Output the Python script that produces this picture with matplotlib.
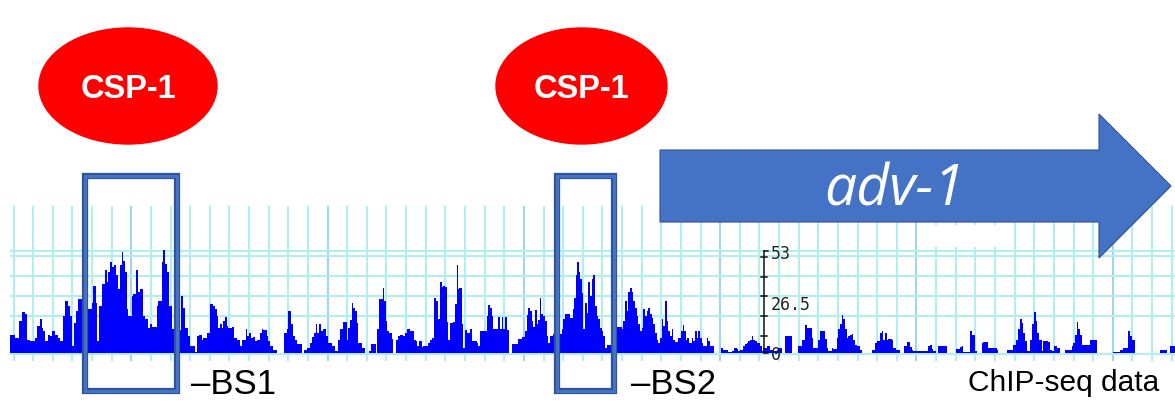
import matplotlib
matplotlib.use("Agg")
import matplotlib.pyplot as plt
from matplotlib.patches import Ellipse, Rectangle, Polygon
import numpy as np

# ChIP-seq coverage track: bin start positions and read depth
bin_starts = [
    10.0, 15.0, 19.3, 21.7, 25.0, 26.7, 30.0, 35.0, 36.7, 40.0, 41.7, 43.3, 45.0, 48.3, 50.0,
    51.7, 55.0, 58.3, 60.0, 63.3, 65.0, 68.3, 70.0, 71.7, 74.0, 76.0, 78.3, 81.7, 88.3, 91.7,
    93.3, 96.0, 97.3, 99.3, 101.7, 105.0, 106.7, 108.3, 110.0, 111.7, 114.0, 116.0, 118.3, 120.0,
    121.7, 123.3, 125.0, 126.7, 128.3, 131.7, 133.3, 136.0, 137.7, 140.0, 142.7, 145.0, 148.3,
    150.0, 151.7, 156.7, 158.3, 161.7, 163.3, 165.0, 166.7, 169.3, 171.7, 174.3, 180.7, 183.3,
    185.0, 188.3, 190.0, 195.0, 196.7, 199.3, 201.7, 203.3, 206.7,
    210.0, 213.3, 215.0, 216.7, 218.3, 220.0, 221.7, 223.3, 225.0, 226.7, 228.3, 231.7, 234.0,
    236.7, 240.0, 241.7, 246.0, 247.3, 249.3, 250.7, 252.7, 255.0, 256.7, 260.0, 261.7, 263.3,
    266.7, 268.3, 270.0, 273.3, 276.7, 284.0, 287.3, 288.3, 290.7, 292.7, 295.0, 297.3, 301.7,
    304.0, 306.7, 310.0, 311.7, 314.0, 316.0, 317.3, 319.3, 320.7, 323.3, 326.0, 328.3, 331.7,
    335.0, 338.3, 340.0, 343.3, 346.7, 348.3, 350.0, 351.7, 353.3, 355.0, 356.7, 358.3, 361.7,
    365.0, 369.3, 370.7, 375.7, 377.3, 379.3, 382.7, 384.0, 385.7, 387.3, 389.3, 391.7, 393.3,
    395.7, 398.3, 400.0, 402.7, 405.0, 406.7,
    410.0, 414.0, 416.0, 417.3, 419.3, 421.7, 423.3, 428.3, 430.0, 431.7, 434.0, 436.0, 438.3,
    440.0, 441.7, 443.3, 445.0, 446.7, 448.3, 450.0, 452.7, 455.0, 456.7, 457.7, 459.3, 461.7,
    463.3, 465.0, 466.7, 470.0, 471.7, 476.7, 478.3, 480.0, 486.7, 488.3, 490.0, 491.7, 493.3,
    496.0, 498.3, 500.0, 501.7, 503.3, 505.0, 506.7, 509.3, 511.7, 518.3, 521.7, 525.0, 526.7,
    528.3, 530.0, 531.7, 533.3, 535.0, 536.7, 538.3, 540.0, 541.0, 542.7, 545.0, 546.7, 548.3,
    550.0, 552.7, 561.7, 563.3, 565.0, 570.0, 572.7, 574.3, 576.0, 577.3, 578.7, 580.0, 581.7,
    583.3, 585.0, 586.7, 588.3, 590.0, 591.7, 593.3, 595.0, 596.7, 598.3, 600.0, 601.7, 603.3,
    605.0, 606.7,
    617.3, 621.7, 623.3, 625.0, 626.7, 628.3, 630.0, 631.7, 633.3, 635.0, 636.7, 638.3, 640.0,
    641.7, 643.3, 645.0, 646.7, 648.3, 650.0, 651.7, 653.3, 655.0, 656.7, 658.3, 660.0, 661.7,
    663.3, 665.0, 666.7, 668.3, 670.0, 671.7, 673.3, 675.0, 678.3, 680.7, 682.7, 684.0, 686.0,
    687.3, 689.3, 691.7, 693.3, 695.0, 696.7, 698.3, 700.0, 701.7, 703.3, 706.7, 708.3, 710.0,
    711.7, 714.0, 720.7, 723.3, 728.3, 731.7, 734.0, 736.7, 738.3, 740.0, 743.3, 745.0, 746.7,
    748.3, 750.0, 751.7, 753.3, 755.0, 756.7, 760.0, 761.7, 763.3, 766.7, 770.0, 773.3, 776.7,
    778.3, 781.7, 785.0, 791.7, 798.3, 801.7, 805.0, 806.7,
    810.0, 811.7, 813.3, 818.3, 820.0, 825.0, 826.7, 828.3, 831.7, 833.3, 836.7, 838.3, 840.0,
    841.7, 843.3, 845.0, 846.7, 848.3, 850.0, 851.7, 853.3, 855.0, 856.7, 860.0, 861.7, 871.7,
    875.0, 876.7, 880.0, 881.7, 883.3, 885.0, 886.7, 888.3, 891.7, 893.3, 896.0, 900.0, 904.0,
    906.7, 910.0, 911.7, 913.3, 928.3, 930.0, 931.7, 933.3, 936.0, 938.3, 947.3, 956.0, 960.0,
    961.7, 963.3, 970.0, 971.7, 975.0, 976.7, 981.7, 983.3, 988.3, 996.7, 998.3, 1006.7,
    1010.0, 1013.3, 1016.0, 1018.3, 1020.0, 1021.7, 1023.3, 1025.0, 1026.7, 1030.0, 1031.7,
    1034.0, 1036.0, 1037.3, 1039.3, 1041.7, 1043.3, 1048.3, 1050.0, 1051.7, 1054.0, 1056.7,
    1060.0, 1065.0, 1071.7, 1073.3, 1075.0, 1076.7, 1078.3, 1080.0, 1081.7, 1090.0, 1096.7,
    1113.3, 1120.0, 1123.3, 1128.3, 1130.0, 1131.7, 1135.0, 1160.0, 1166.7, 1170.0,
]
track_end = 1175.0
depth = [
    9.6, 7.9, 16.7, 21.4, 20.2, 7.0, 6.1, 7.9, 14.0, 17.9, 13.2, 11.4, 6.1, 9.6, 8.8,
    11.4, 9.6, 7.9, 6.1, 19.3, 27.2, 24.6, 19.3, 3.5, 15.8, 21.9, 28.1, 28.0, 22.8, 26.3,
    35.1, 26.3, 6.1, 24.6, 36.0, 43.0, 36.8, 42.1, 47.4, 44.7, 45.6, 40.4, 33.3, 45.6,
    52.6, 48.2, 42.1, 22.8, 19.3, 29.8, 30.7, 43.0, 31.6, 33.3, 19.3, 17.5, 13.2,
    14.9, 13.7, 24.6, 27.2, 47.4, 53.5, 46.5, 42.1, 24.6, 12.3, 12.0, 29.8, 23.7,
    13.2, 8.8, 3.5, 0.5, 8.8, 9.6, 7.0, 7.9, 10.5,
    25.4, 24.6, 22.8, 19.3, 13.2, 14.9, 13.2, 16.7, 18.9, 14.0, 13.2, 13.7, 7.9,
    7.0, 3.9, 7.0, 12.6, 8.8, 10.5, 7.9, 8.4, 6.1, 7.0, 10.5, 12.3, 12.0,
    8.8, 6.1, 3.5, 1.8, 0.0, 10.5, 12.3, 21.9, 14.9, 8.8, 7.0, 4.9, 0.0,
    1.8, 2.6, 5.3, 8.4, 10.5, 14.9, 10.5, 14.9, 11.4, 12.3, 8.8, 5.3, 3.5,
    0.9, 7.0, 12.3, 16.1, 7.0, 13.2, 17.2, 26.0, 23.7, 21.9, 15.8, 5.3, 2.6,
    0.0, 0.9, 4.9, 0.0, 12.6, 28.1, 33.7, 27.2, 16.7, 11.4, 10.5, 7.4, 0.0,
    7.0, 8.8, 9.6, 8.8, 10.5, 12.3,
    11.4, 7.0, 6.1, 3.5, 6.1, 3.2, 3.9, 5.3, 7.0, 7.9, 28.9, 27.2, 17.5,
    36.8, 34.2, 35.1, 34.2, 16.1, 7.0, 15.8, 16.1, 25.4, 46.0, 33.3, 33.7, 14.9,
    2.6, 11.9, 10.2, 12.3, 6.1, 5.3, 3.5, 11.4, 19.3, 24.9, 23.7, 19.3, 12.3,
    12.6, 18.9, 12.6, 18.9, 12.6, 18.9, 11.9, 0.0, 4.9, 7.4, 8.4, 11.4, 19.6,
    23.7, 21.9, 16.7, 13.7, 22.5, 14.9, 17.2, 28.9, 20.2, 19.3, 16.7, 8.8, 5.3,
    8.8, 10.0, 12.3, 17.5, 20.2, 18.4, 22.8, 28.9, 40.4, 47.4, 42.1, 38.6, 31.2,
    12.6, 26.3, 21.0, 36.8, 29.8, 38.6, 40.4, 24.6, 19.3, 17.5, 13.2, 11.4, 8.8,
    2.6, 4.4,
    13.7, 12.3, 16.7, 27.2, 21.9, 31.6, 33.7, 31.6, 27.2, 23.7, 19.3, 14.9, 11.4,
    13.2, 22.8, 19.3, 21.9, 23.7, 20.2, 18.4, 14.9, 10.5, 7.0, 5.3, 7.9, 17.5,
    14.0, 27.2, 16.7, 11.4, 8.8, 12.3, 7.0, 5.6, 7.9, 11.4, 14.4, 11.4, 7.0,
    7.9, 5.3, 7.9, 6.1, 11.4, 7.9, 11.4, 7.9, 5.3, 3.5, 7.9, 6.1, 3.9,
    3.5, 0.0, 2.6, 1.8, 0.4, 0.9, 2.6, 2.1, 0.9, 1.8, 3.5, 4.9, 5.3,
    6.1, 7.0, 8.8, 7.0, 6.1, 5.3, 3.5, 0.9, 2.5, 3.9, 1.8, 0.9, 1.8,
    2.6, 0.0, 8.8, 0.0, 3.9, 7.0, 14.4, 13.2,
    13.2, 7.9, 2.6, 7.0, 11.4, 7.4, 2.6, 0.9, 2.6, 2.1, 7.9, 12.3, 14.9,
    19.6, 17.5, 12.6, 7.9, 8.8, 9.6, 10.0, 7.0, 4.4, 3.9, 1.8, 0.0, 1.8,
    5.3, 6.1, 10.5, 11.4, 7.0, 10.5, 7.0, 7.4, 7.0, 2.6, 1.8, 0.0, 3.9,
    5.6, 3.2, 1.8, 0.9, 3.9, 4.4, 2.1, 0.9, 0.0, 3.5, 0.0, 2.1, 3.2,
    3.5, 0.4, 11.4, 9.6, 0.9, 0.0, 5.3, 5.6, 2.6, 1.4, 0.0, 1.8,
    1.8, 4.4, 7.0, 12.3, 17.5, 15.8, 10.5, 6.1, 0.9, 7.0, 14.9,
    21.4, 16.7, 10.5, 7.0, 0.9, 6.1, 5.6, 1.8, 0.9, 3.5, 2.6,
    0.0, 1.8, 3.5, 5.3, 9.6, 16.1, 12.3, 9.6, 4.4, 7.0, 0.0,
    0.5, 1.4, 2.6, 11.4, 8.8, 7.0, 0.0, 1.4, 0.0, 3.5,
]

# track scale and grid
scale_max = 53
scale_labels = ["53", "26.5", "0"]
scale_label_at = [52.0, 25.5, -0.6]
scale_ticks = [50.0, 39.6, 29.7, 19.3, 8.9]
hgrid = [53.2, 50.6, 40.1, 29.7, 19.3, -0.5]
vgrid = 13.5 + 19.63 * np.arange(60)

fig = plt.figure(figsize=(11.75, 4.02), dpi=100)

# --- coverage track (pixel columns 10..1175, rows 207..362)
ax = fig.add_axes([10 / 1175, 40 / 402, 1165 / 1175, 155 / 402])
ax.set_xlim(10, 1175)
ax.set_ylim(-4.17, 76.6)
ax.set_xticks(vgrid[6::10])
ax.set_xticks(np.delete(vgrid, np.arange(6, 60, 10)), minor=True)
ax.set_yticks(hgrid)
ax.tick_params(which="both", length=0, labelbottom=False, labelleft=False)
for s in ax.spines.values():
    s.set_visible(False)
ax.grid(axis="x", which="minor", color="#b2eef0", lw=1.5)
ax.grid(axis="x", which="major", color="#9fd6ec", lw=1.5)
ax.grid(axis="y", which="major", color="#b2eef0", lw=1.5)
ax.set_axisbelow(True)

edges = np.append(bin_starts, track_end)
ax.stairs(depth, edges, fill=True, color="#0000ff", baseline=0, zorder=2)

# scale bar
xb = 764
ax.plot([xb, xb], [0, scale_max], color="#111111", lw=1.1, zorder=3)
ax.plot([xb, xb + 4], [scale_max, scale_max], color="#111111", lw=1.1, zorder=3)
ax.plot([xb, xb + 4], [0, 0], color="#111111", lw=1.1, zorder=3)
for t in scale_ticks:
    ax.plot([xb - 3, xb + 3], [t, t], color="#111111", lw=1.1, zorder=3)
for lab, yv in zip(scale_labels, scale_label_at):
    ax.text(xb + 7, yv, lab, fontsize=12, family="DejaVu Sans Mono",
            color="#222222", va="center", ha="left", zorder=3)

# --- overlay in pixel coordinates
ov = fig.add_axes([0, 0, 1, 1])
ov.set_xlim(0, 1175)
ov.set_ylim(402, 0)
ov.axis("off")
ov.patch.set_alpha(0)

for cx, w in [(128, 178), (581.5, 171)]:
    ov.add_patch(Ellipse((cx, 87), w, 116, color="#ff0000"))
    ov.text(cx, 89, "CSP-1", color="white", fontsize=23.5, fontweight="bold",
            family="Liberation Sans", ha="center", va="center")

ov.add_patch(Rectangle((928, 226), 78, 22, color="white", lw=0))
ov.add_patch(Polygon([(660, 151), (1099, 151), (1099, 115), (1171, 187),
                      (1099, 259), (1099, 223), (660, 223)],
                     facecolor="#4472c4", edgecolor="#2f528f", lw=0.8))
ov.text(895, 191, "adv-1", color="white", fontsize=41, style="italic",
        family="Open Sans", ha="center", va="center")

for x0, x1 in [(85, 177), (556.5, 614)]:
    ov.add_patch(Rectangle((x0, 177), x1 - x0, 215, fill=False,
                           edgecolor="#2f5597", lw=4.5))
    ov.add_patch(Rectangle((x0, 177), x1 - x0, 215, fill=False,
                           edgecolor="#4472c4", lw=2.2))

ov.text(191, 385, "\u2013BS1", fontsize=25, family="Liberation Sans",
        ha="left", va="center")
ov.text(631, 385, "\u2013BS2", fontsize=25, family="Liberation Sans",
        ha="left", va="center")
ov.text(968, 383, "ChIP-seq data", fontsize=21.5, family="Liberation Sans",
        ha="left", va="center")

fig.savefig("out.png", dpi=100)
